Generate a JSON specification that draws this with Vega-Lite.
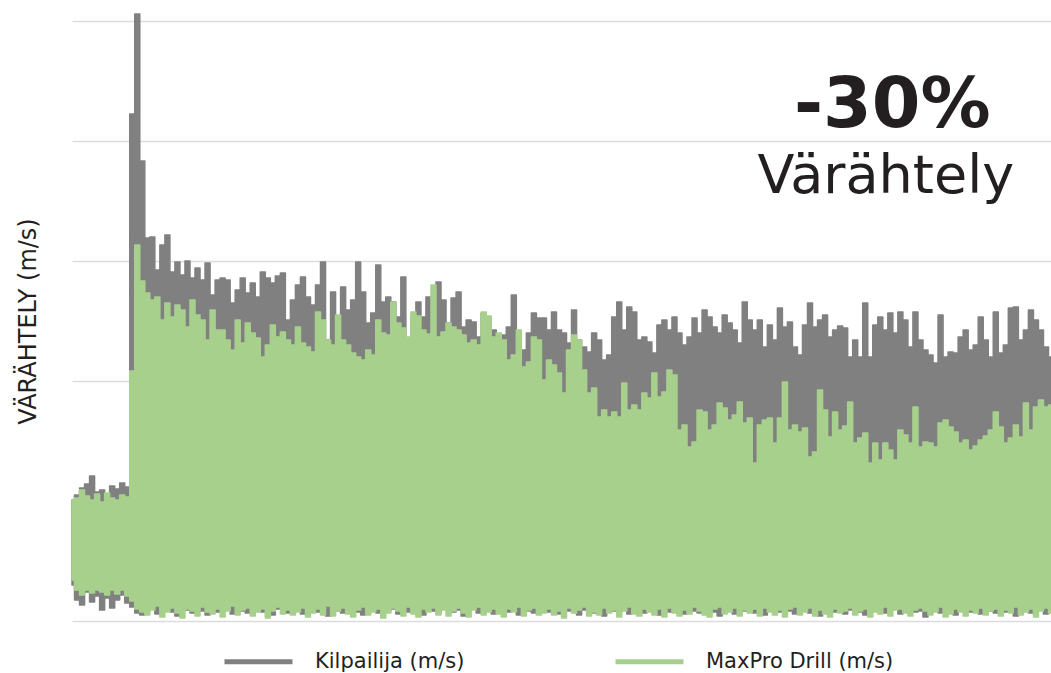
{
"$schema":"https://vega.github.io/schema/vega-lite/v6.json",
"width":979,"height":600,
"autosize":{"type":"none"},
"padding":{"left":72,"top":21,"right":0,"bottom":52},
"background":"white",
"config":{"view":{"stroke":null},"font":"DejaVu Sans"},
"data":{"values":[
{"t":0,"kh":121,"kl":36,"mh":121,"ml":41},{"t":1,"kh":126,"kl":21,"mh":123,"ml":31},{"t":2,"kh":133,"kl":16,"mh":131,"ml":26},{"t":3,"kh":137,"kl":29,"mh":125,"ml":31},{"t":4,"kh":145,"kl":19,"mh":121,"ml":28},{"t":5,"kh":129,"kl":25,"mh":127,"ml":31},{"t":6,"kh":131,"kl":11,"mh":119,"ml":29},{"t":7,"kh":125,"kl":23,"mh":128,"ml":26},{"t":8,"kh":135,"kl":13,"mh":123,"ml":31},{"t":9,"kh":132,"kl":21,"mh":121,"ml":27},
{"t":10,"kh":138,"kl":26,"mh":126,"ml":31},{"t":11,"kh":134,"kl":18,"mh":124,"ml":25},{"t":12,"kh":507,"kl":14,"mh":250,"ml":20},{"t":13,"kh":607,"kl":8,"mh":376,"ml":12},{"t":14,"kh":460,"kl":6,"mh":340,"ml":9},{"t":15,"kh":383,"kl":10,"mh":328,"ml":6},{"t":16,"kh":384,"kl":14,"mh":321,"ml":11},{"t":17,"kh":351,"kl":7,"mh":324,"ml":15},{"t":18,"kh":376,"kl":12,"mh":301,"ml":4},{"t":19,"kh":386,"kl":16,"mh":318,"ml":9},
{"t":20,"kh":349,"kl":9,"mh":304,"ml":13},{"t":21,"kh":359,"kl":5,"mh":316,"ml":8},{"t":22,"kh":346,"kl":13,"mh":311,"ml":3},{"t":23,"kh":360,"kl":11,"mh":294,"ml":12},{"t":24,"kh":343,"kl":8,"mh":321,"ml":10},{"t":25,"kh":353,"kl":15,"mh":306,"ml":5},{"t":26,"kh":341,"kl":10,"mh":301,"ml":14},{"t":27,"kh":358,"kl":6,"mh":281,"ml":9},{"t":28,"kh":326,"kl":12,"mh":311,"ml":7},{"t":29,"kh":341,"kl":9,"mh":291,"ml":12},
{"t":30,"kh":343,"kl":17,"mh":291,"ml":4},{"t":31,"kh":341,"kl":11,"mh":281,"ml":10},{"t":32,"kh":318,"kl":7,"mh":271,"ml":15},{"t":33,"kh":331,"kl":14,"mh":301,"ml":6},{"t":34,"kh":343,"kl":10,"mh":278,"ml":11},{"t":35,"kh":328,"kl":8,"mh":298,"ml":13},{"t":36,"kh":338,"kl":13,"mh":288,"ml":5},{"t":37,"kh":324,"kl":16,"mh":283,"ml":9},{"t":38,"kh":349,"kl":9,"mh":264,"ml":12},{"t":39,"kh":343,"kl":11,"mh":276,"ml":3},
{"t":40,"kh":338,"kl":6,"mh":296,"ml":10},{"t":41,"kh":345,"kl":12,"mh":284,"ml":14},{"t":42,"kh":348,"kl":15,"mh":289,"ml":7},{"t":43,"kh":301,"kl":8,"mh":281,"ml":11},{"t":44,"kh":321,"kl":10,"mh":276,"ml":6},{"t":45,"kh":336,"kl":13,"mh":294,"ml":9},{"t":46,"kh":344,"kl":7,"mh":278,"ml":13},{"t":47,"kh":324,"kl":11,"mh":274,"ml":4},{"t":48,"kh":316,"kl":16,"mh":269,"ml":8},{"t":49,"kh":336,"kl":9,"mh":309,"ml":12},
{"t":50,"kh":359,"kl":12,"mh":301,"ml":6},{"t":51,"kh":281,"kl":5,"mh":281,"ml":15},{"t":52,"kh":329,"kl":14,"mh":276,"ml":5},{"t":53,"kh":304,"kl":10,"mh":306,"ml":10},{"t":54,"kh":334,"kl":8,"mh":281,"ml":13},{"t":55,"kh":311,"kl":12,"mh":276,"ml":7},{"t":56,"kh":321,"kl":15,"mh":268,"ml":4},{"t":57,"kh":359,"kl":9,"mh":264,"ml":11},{"t":58,"kh":329,"kl":6,"mh":261,"ml":14},{"t":59,"kh":298,"kl":13,"mh":271,"ml":6},
{"t":60,"kh":308,"kl":11,"mh":266,"ml":9},{"t":61,"kh":356,"kl":8,"mh":301,"ml":12},{"t":62,"kh":319,"kl":16,"mh":288,"ml":3},{"t":63,"kh":324,"kl":10,"mh":286,"ml":8},{"t":64,"kh":319,"kl":12,"mh":319,"ml":13},{"t":65,"kh":304,"kl":7,"mh":298,"ml":10},{"t":66,"kh":344,"kl":14,"mh":293,"ml":5},{"t":67,"kh":276,"kl":9,"mh":284,"ml":14},{"t":68,"kh":304,"kl":11,"mh":309,"ml":7},{"t":69,"kh":319,"kl":15,"mh":305,"ml":4},
{"t":70,"kh":304,"kl":6,"mh":291,"ml":12},{"t":71,"kh":324,"kl":12,"mh":287,"ml":9},{"t":72,"kh":314,"kl":10,"mh":336,"ml":13},{"t":73,"kh":339,"kl":8,"mh":284,"ml":6},{"t":74,"kh":321,"kl":13,"mh":289,"ml":11},{"t":75,"kh":298,"kl":16,"mh":298,"ml":5},{"t":76,"kh":323,"kl":9,"mh":294,"ml":10},{"t":77,"kh":329,"kl":11,"mh":291,"ml":13},{"t":78,"kh":294,"kl":5,"mh":286,"ml":8},{"t":79,"kh":301,"kl":12,"mh":278,"ml":4},
{"t":80,"kh":299,"kl":14,"mh":281,"ml":11},{"t":81,"kh":284,"kl":8,"mh":276,"ml":14},{"t":82,"kh":308,"kl":10,"mh":309,"ml":6},{"t":83,"kh":303,"kl":13,"mh":305,"ml":9},{"t":84,"kh":291,"kl":7,"mh":284,"ml":12},{"t":85,"kh":274,"kl":11,"mh":288,"ml":7},{"t":86,"kh":286,"kl":15,"mh":281,"ml":4},{"t":87,"kh":294,"kl":9,"mh":261,"ml":12},{"t":88,"kh":326,"kl":12,"mh":266,"ml":9},{"t":89,"kh":264,"kl":6,"mh":291,"ml":14},
{"t":90,"kh":271,"kl":14,"mh":254,"ml":5},{"t":91,"kh":288,"kl":10,"mh":259,"ml":11},{"t":92,"kh":308,"kl":8,"mh":284,"ml":13},{"t":93,"kh":303,"kl":13,"mh":281,"ml":6},{"t":94,"kh":303,"kl":11,"mh":241,"ml":8},{"t":95,"kh":291,"kl":9,"mh":261,"ml":12},{"t":96,"kh":309,"kl":16,"mh":256,"ml":6},{"t":97,"kh":291,"kl":7,"mh":248,"ml":10},{"t":98,"kh":288,"kl":12,"mh":228,"ml":3},{"t":99,"kh":278,"kl":10,"mh":271,"ml":13},
{"t":100,"kh":311,"kl":14,"mh":286,"ml":8},{"t":101,"kh":281,"kl":6,"mh":281,"ml":11},{"t":102,"kh":274,"kl":11,"mh":251,"ml":14},{"t":103,"kh":269,"kl":13,"mh":228,"ml":5},{"t":104,"kh":288,"kl":8,"mh":233,"ml":9},{"t":105,"kh":281,"kl":12,"mh":204,"ml":6},{"t":106,"kh":261,"kl":5,"mh":211,"ml":13},{"t":107,"kh":266,"kl":15,"mh":204,"ml":8},{"t":108,"kh":304,"kl":10,"mh":209,"ml":11},{"t":109,"kh":319,"kl":9,"mh":204,"ml":4},
{"t":110,"kh":291,"kl":13,"mh":238,"ml":10},{"t":111,"kh":314,"kl":7,"mh":211,"ml":14},{"t":112,"kh":309,"kl":11,"mh":216,"ml":7},{"t":113,"kh":281,"kl":16,"mh":211,"ml":5},{"t":114,"kh":284,"kl":8,"mh":228,"ml":12},{"t":115,"kh":279,"kl":10,"mh":223,"ml":9},{"t":116,"kh":268,"kl":14,"mh":248,"ml":6},{"t":117,"kh":296,"kl":6,"mh":224,"ml":12},{"t":118,"kh":301,"kl":12,"mh":229,"ml":4},{"t":119,"kh":291,"kl":9,"mh":251,"ml":13},
{"t":120,"kh":304,"kl":11,"mh":246,"ml":8},{"t":121,"kh":288,"kl":15,"mh":191,"ml":5},{"t":122,"kh":276,"kl":7,"mh":196,"ml":11},{"t":123,"kh":284,"kl":13,"mh":174,"ml":7},{"t":124,"kh":303,"kl":10,"mh":179,"ml":14},{"t":125,"kh":288,"kl":8,"mh":211,"ml":10},{"t":126,"kh":311,"kl":12,"mh":209,"ml":6},{"t":127,"kh":304,"kl":16,"mh":191,"ml":4},{"t":128,"kh":294,"kl":9,"mh":196,"ml":12},{"t":129,"kh":288,"kl":5,"mh":218,"ml":14},
{"t":130,"kh":306,"kl":13,"mh":213,"ml":7},{"t":131,"kh":298,"kl":11,"mh":201,"ml":9},{"t":132,"kh":291,"kl":7,"mh":206,"ml":13},{"t":133,"kh":278,"kl":14,"mh":219,"ml":5},{"t":134,"kh":319,"kl":10,"mh":198,"ml":11},{"t":135,"kh":301,"kl":12,"mh":203,"ml":8},{"t":136,"kh":291,"kl":8,"mh":158,"ml":12},{"t":137,"kh":301,"kl":15,"mh":196,"ml":5},{"t":138,"kh":274,"kl":6,"mh":201,"ml":13},{"t":139,"kh":296,"kl":11,"mh":203,"ml":9},
{"t":140,"kh":281,"kl":13,"mh":178,"ml":6},{"t":141,"kh":313,"kl":9,"mh":203,"ml":11},{"t":142,"kh":294,"kl":16,"mh":239,"ml":4},{"t":143,"kh":299,"kl":10,"mh":191,"ml":12},{"t":144,"kh":274,"kl":7,"mh":196,"ml":14},{"t":145,"kh":266,"kl":14,"mh":189,"ml":6},{"t":146,"kh":296,"kl":11,"mh":193,"ml":9},{"t":147,"kh":318,"kl":8,"mh":164,"ml":13},{"t":148,"kh":294,"kl":12,"mh":169,"ml":5},{"t":149,"kh":301,"kl":5,"mh":231,"ml":11},
{"t":150,"kh":306,"kl":15,"mh":211,"ml":7},{"t":151,"kh":284,"kl":10,"mh":184,"ml":4},{"t":152,"kh":291,"kl":9,"mh":209,"ml":12},{"t":153,"kh":295,"kl":13,"mh":191,"ml":8},{"t":154,"kh":293,"kl":7,"mh":195,"ml":10},{"t":155,"kh":264,"kl":11,"mh":219,"ml":13},{"t":156,"kh":281,"kl":16,"mh":178,"ml":6},{"t":157,"kh":264,"kl":9,"mh":183,"ml":10},{"t":158,"kh":318,"kl":6,"mh":188,"ml":12},{"t":159,"kh":264,"kl":12,"mh":158,"ml":4},
{"t":160,"kh":296,"kl":10,"mh":178,"ml":9},{"t":161,"kh":304,"kl":14,"mh":161,"ml":7},{"t":162,"kh":291,"kl":8,"mh":178,"ml":14},{"t":163,"kh":308,"kl":11,"mh":171,"ml":5},{"t":164,"kh":288,"kl":13,"mh":161,"ml":11},{"t":165,"kh":309,"kl":7,"mh":191,"ml":12},{"t":166,"kh":301,"kl":12,"mh":186,"ml":8},{"t":167,"kh":274,"kl":15,"mh":178,"ml":5},{"t":168,"kh":309,"kl":9,"mh":214,"ml":11},{"t":169,"kh":281,"kl":10,"mh":174,"ml":13},
{"t":170,"kh":271,"kl":4,"mh":179,"ml":10},{"t":171,"kh":266,"kl":13,"mh":178,"ml":6},{"t":172,"kh":258,"kl":11,"mh":174,"ml":9},{"t":173,"kh":306,"kl":8,"mh":198,"ml":14},{"t":174,"kh":264,"kl":14,"mh":201,"ml":4},{"t":175,"kh":269,"kl":10,"mh":194,"ml":7},{"t":176,"kh":268,"kl":6,"mh":189,"ml":12},{"t":177,"kh":284,"kl":12,"mh":178,"ml":9},{"t":178,"kh":291,"kl":15,"mh":181,"ml":5},{"t":179,"kh":271,"kl":9,"mh":171,"ml":11},
{"t":180,"kh":276,"kl":11,"mh":175,"ml":8},{"t":181,"kh":304,"kl":7,"mh":181,"ml":13},{"t":182,"kh":281,"kl":13,"mh":185,"ml":6},{"t":183,"kh":264,"kl":10,"mh":191,"ml":10},{"t":184,"kh":309,"kl":8,"mh":209,"ml":12},{"t":185,"kh":268,"kl":14,"mh":194,"ml":5},{"t":186,"kh":276,"kl":9,"mh":178,"ml":11},{"t":187,"kh":313,"kl":12,"mh":183,"ml":8},{"t":188,"kh":314,"kl":5,"mh":196,"ml":14},{"t":189,"kh":281,"kl":11,"mh":184,"ml":6},
{"t":190,"kh":291,"kl":15,"mh":218,"ml":9},{"t":191,"kh":311,"kl":8,"mh":191,"ml":12},{"t":192,"kh":301,"kl":10,"mh":214,"ml":4},{"t":193,"kh":291,"kl":13,"mh":221,"ml":10},{"t":194,"kh":274,"kl":7,"mh":214,"ml":13},{"t":195,"kh":264,"kl":11,"mh":216,"ml":8}
]},
"layer":[
{"mark":{"type":"area","interpolate":"step","strokeWidth":1.5,"strokeJoin":"round"},
 "encoding":{
  "x":{"field":"t","type":"quantitative","scale":{"domain":[0,195],"nice":false,"zero":false},"axis":null},
  "y":{"field":"kh","type":"quantitative","scale":{"domain":[0,600],"nice":false},
       "axis":{"title":"VÄRÄHTELY (m/s)","titleFontSize":24,"titleFontWeight":"normal","titleColor":"#231f20","titlePadding":32,"labels":false,"ticks":false,"domain":false,"grid":true,"gridColor":"#dcdcdc","gridWidth":1.5,"values":[0,120,240,360,480,600]}},
  "y2":{"field":"kl"},
  "color":{"datum":"Kilpailija (m/s)","type":"nominal","scale":{"domain":["Kilpailija (m/s)","MaxPro Drill (m/s)"],"range":["#808080","#a8d08d"]},
    "legend":{"orient":"none","legendX":150,"legendY":604,"direction":"horizontal","title":null,"padding":0,"symbolType":"stroke","symbolSize":4624,"symbolStrokeWidth":5,"labelFontSize":21,"labelColor":"#231f20","labelOffset":20,"columnPadding":140,"labelLimit":400,
      "encode":{"symbols":{"update":{"stroke":{"scale":"color","field":"value"},"strokeWidth":{"value":5}}}}}},
  "stroke":{"datum":"Kilpailija (m/s)","type":"nominal","scale":{"domain":["Kilpailija (m/s)","MaxPro Drill (m/s)"],"range":["#808080","#a8d08d"]},"legend":null}
 }},
{"mark":{"type":"area","interpolate":"step","strokeWidth":1.5,"strokeJoin":"round"},
 "encoding":{
  "x":{"field":"t","type":"quantitative"},
  "y":{"field":"mh","type":"quantitative"},
  "y2":{"field":"ml"},
  "color":{"datum":"MaxPro Drill (m/s)","type":"nominal"},
  "stroke":{"datum":"MaxPro Drill (m/s)","type":"nominal","legend":null}
 }},
{"data":{"values":[{}]},
 "mark":{"type":"text","text":"-30%","font":"DejaVu Sans","fontSize":70,"fontWeight":"bold","color":"#231f20","align":"center","baseline":"alphabetic"},
 "encoding":{"x":{"datum":163.4,"type":"quantitative"},"y":{"datum":494,"type":"quantitative"}}},
{"data":{"values":[{}]},
 "mark":{"type":"text","text":"Värähtely","font":"DejaVu Sans","fontSize":54,"fontWeight":"normal","color":"#231f20","align":"center","baseline":"alphabetic"},
 "encoding":{"x":{"datum":162.1,"type":"quantitative"},"y":{"datum":428,"type":"quantitative"}}}
]
}
